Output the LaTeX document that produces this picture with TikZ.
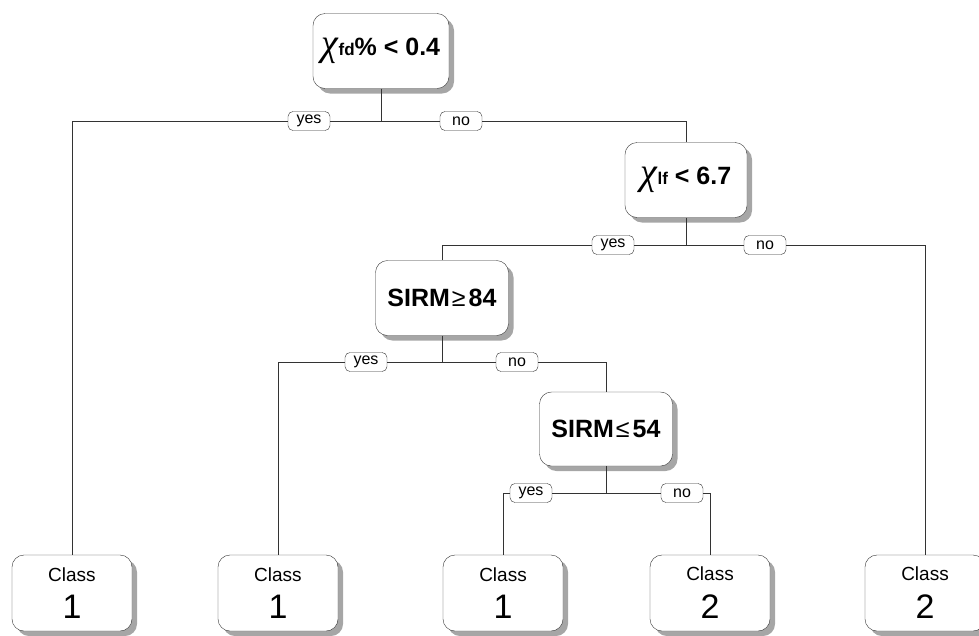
\documentclass[tikz,border=0pt]{standalone}
\usepackage{fontspec}
\setmainfont{Liberation Sans}
\newfontfamily\chifont{Liberation Serif}
\usetikzlibrary{shadows}

\newcommand{\chisym}{{\chifont\itshape\mdseries\fontsize{38}{38}\selectfont χ}}
\newcommand{\subtxt}[1]{{\fontsize{17}{17}\selectfont #1}}
\newcommand{\classtxt}[1]{Class\\[13pt]{\fontsize{34}{34}\selectfont #1}}

\begin{document}
\begin{tikzpicture}[x=1pt,y=-1pt]
    \tikzstyle{sp} = [draw=black!80, fill=white, rounded corners=12pt,
    minimum width=133pt, minimum height=75pt, inner sep=0pt,
    font=\bfseries\fontsize{25}{29}\selectfont,
    drop shadow={shadow xshift=5pt, shadow yshift=-5pt,
    fill=black!35, opacity=1}];
    \tikzstyle{lf} = [sp, minimum width=120pt, minimum height=76pt,
    font=\mdseries\fontsize{19}{21}\selectfont, align=center];
    \tikzstyle{lb} = [draw=black!80, fill=white, rounded corners=5pt,
    minimum width=42pt, minimum height=19pt, inner sep=0pt,
    font=\fontsize{16}{16}\selectfont];
    \tikzstyle{ln} = [black!80, line width=0.8pt, -];
    \tikzstyle{hv} = [to path={-| (\tikztotarget)}];

    \useasboundingbox (0,0) rectangle (979,635);

    % splits
    \node[sp, minimum width=136pt] (r) at (381,51)
        {\chisym\subtxt{fd}\% < 0.4};
    \node[sp, minimum width=122pt] (s1) at (686,180)
        {\chisym\subtxt{lf} < 6.7};
    \node[sp] (s2) at (442,298)
        {SIRM\kern2pt{\mdseries ≥}\kern3pt84};
    \node[sp, minimum height=74pt] (s3) at (606,429)
        {SIRM\kern2pt{\mdseries ≤}\kern3pt54};

    % leaves
    \node[lf] (l1) at (72,593) {\classtxt{1}};
    \node[lf] (l2) at (278,593) {\classtxt{1}};
    \node[lf] (l3) at (503,593) {\classtxt{1}};
    \node[lf] (l4) at (710,593) {\classtxt{2}};
    \node[lf] (l5) at (925,593) {\classtxt{2}};

    % yes / no
    \node[lb] (y1) at (309,121) {yes};
    \node[lb] (n1) at (461,121) {no};
    \node[lb] (y2) at (613,245) {yes};
    \node[lb] (n2) at (765,245) {no};
    \node[lb] (y3) at (366,362) {yes};
    \node[lb] (n3) at (517,362) {no};
    \node[lb] (y4) at (531,493) {yes};
    \node[lb] (n4) at (682,493) {no};

    \path[ln] (r.south) edge (r.south |- y1)
              (y1.east) edge (n1.west)
              (y1.west) edge[hv] (l1.north)
              (n1.east) edge[hv] (s1.north);
    \path[ln] (s1.south) edge (s1.south |- y2)
              (y2.east) edge (n2.west)
              (y2.west) edge[hv] (s2.north)
              (n2.east) edge[hv] (l5.north);
    \path[ln] (s2.south) edge (s2.south |- y3)
              (y3.east) edge (n3.west)
              (y3.west) edge[hv] (l2.north)
              (n3.east) edge[hv] (s3.north);
    \path[ln] (s3.south) edge (s3.south |- y4)
              (y4.east) edge (n4.west)
              (y4.west) edge[hv] (l3.north)
              (n4.east) edge[hv] (l4.north);

\end{tikzpicture}
\end{document}
